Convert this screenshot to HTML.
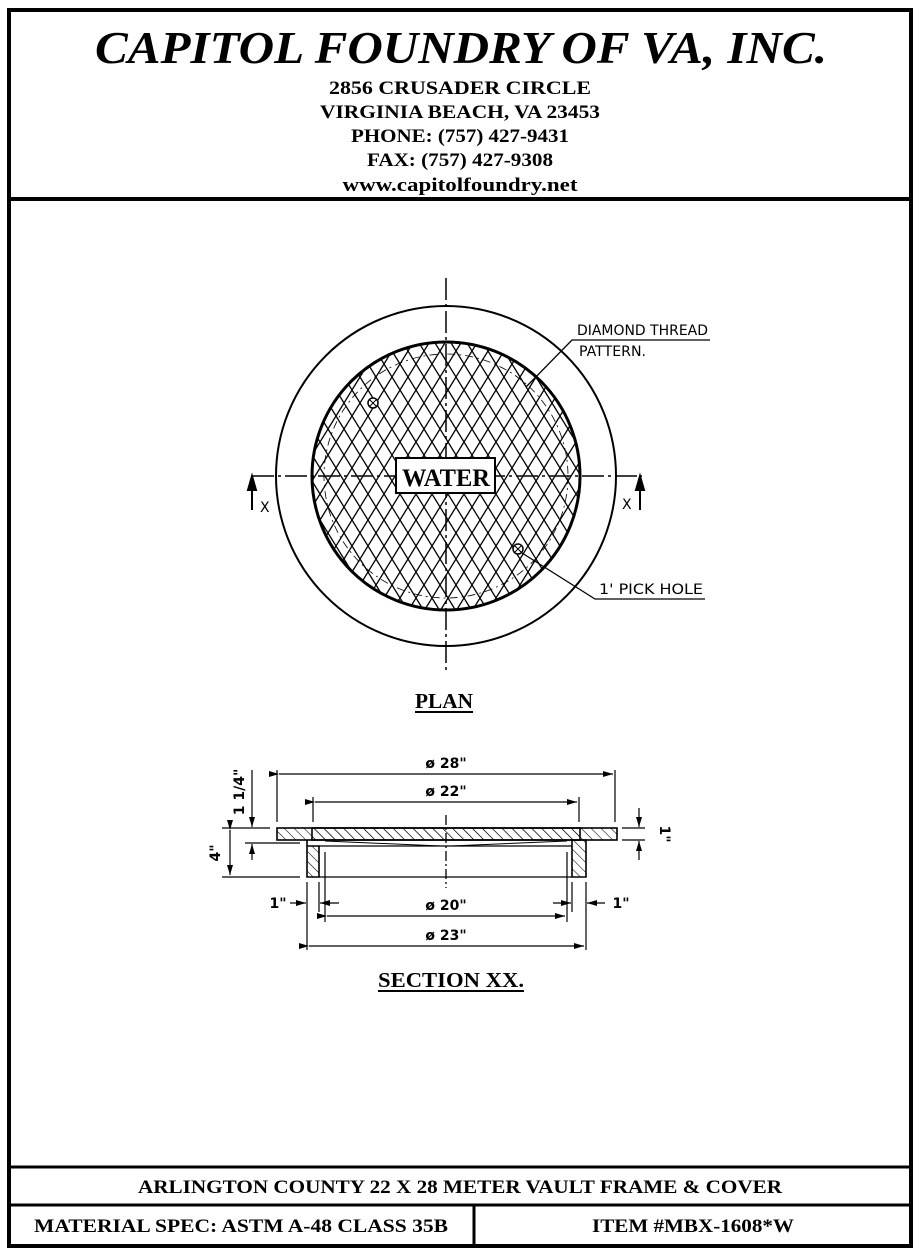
<!DOCTYPE html>
<html><head><meta charset="utf-8"><style>
html,body{margin:0;padding:0;background:#fff;}
svg{display:block;}
</style></head><body>
<svg width="920" height="1252" viewBox="0 0 920 1252" xmlns="http://www.w3.org/2000/svg">
<defs>
<pattern id="hx" x="0" y="0" width="16" height="26" patternUnits="userSpaceOnUse">
<path d="M0,26 L16,0 M0,0 L16,26 M-8,13 L0,0 M16,26 L24,13 M-8,13 L0,26 M16,0 L24,13" stroke="#000" stroke-width="1.3" fill="none"/>
</pattern>
<pattern id="sec" width="7" height="7" patternUnits="userSpaceOnUse" patternTransform="rotate(-45)">
<line x1="0" y1="0" x2="0" y2="7" stroke="#000" stroke-width="1.1"/>
</pattern>
<clipPath id="cc"><circle cx="446" cy="476" r="134"/></clipPath>
<marker id="ar" markerWidth="10" markerHeight="6" refX="10" refY="3" orient="auto" markerUnits="userSpaceOnUse"><path d="M0,0 L10,3 L0,6 z" fill="#000"/></marker>
</defs>
<!-- frame -->
<rect x="9" y="10" width="902" height="1236" fill="none" stroke="#000" stroke-width="4"/>
<line x1="9" y1="199" x2="911" y2="199" stroke="#000" stroke-width="4"/>
<line x1="9" y1="1167" x2="911" y2="1167" stroke="#000" stroke-width="3"/>
<line x1="9" y1="1205" x2="911" y2="1205" stroke="#000" stroke-width="3"/>
<line x1="474" y1="1205" x2="474" y2="1246" stroke="#000" stroke-width="3"/>
<!-- header -->
<g font-family="Liberation Serif, serif" text-anchor="middle" fill="#000" font-weight="bold">
<text x="461" y="63" font-size="46" font-style="italic" textLength="732" lengthAdjust="spacingAndGlyphs">CAPITOL FOUNDRY OF VA, INC.</text>
<text x="460" y="94" font-size="19" textLength="262" lengthAdjust="spacingAndGlyphs">2856 CRUSADER CIRCLE</text>
<text x="460" y="118" font-size="19" textLength="280" lengthAdjust="spacingAndGlyphs">VIRGINIA BEACH, VA 23453</text>
<text x="460" y="142" font-size="19" textLength="218" lengthAdjust="spacingAndGlyphs">PHONE: (757) 427-9431</text>
<text x="460" y="166" font-size="19" textLength="186" lengthAdjust="spacingAndGlyphs">FAX: (757) 427-9308</text>
<text x="460" y="191" font-size="19" textLength="235" lengthAdjust="spacingAndGlyphs">www.capitolfoundry.net</text>
<text x="460" y="1193" font-size="19" textLength="644" lengthAdjust="spacingAndGlyphs">ARLINGTON COUNTY 22 X 28 METER VAULT FRAME &amp; COVER</text>
<text x="241" y="1232" font-size="19" textLength="414" lengthAdjust="spacingAndGlyphs">MATERIAL SPEC:  ASTM A-48 CLASS 35B</text>
<text x="693" y="1232" font-size="19" textLength="202" lengthAdjust="spacingAndGlyphs">ITEM #MBX-1608*W</text>
</g>
<!-- PLAN -->
<circle cx="446" cy="476" r="170" fill="none" stroke="#000" stroke-width="2"/>
<rect x="300" y="330" width="300" height="300" fill="url(#hx)" clip-path="url(#cc)"/>
<circle cx="446" cy="476" r="134" fill="none" stroke="#000" stroke-width="3"/>
<circle cx="446" cy="476" r="122" fill="none" stroke="#000" stroke-width="0.8" stroke-dasharray="8,4,2,4"/>
<line x1="446" y1="278" x2="446" y2="672" stroke="#000" stroke-width="1.5" stroke-dasharray="22,4,3,4"/>
<line x1="252" y1="476" x2="642" y2="476" stroke="#000" stroke-width="1.5" stroke-dasharray="22,4,3,4"/>
<rect x="396" y="458" width="99" height="35" fill="#fff" stroke="#000" stroke-width="2"/>
<text x="446" y="486" font-family="Liberation Serif, serif" font-weight="bold" font-size="25" text-anchor="middle" textLength="88" lengthAdjust="spacingAndGlyphs">WATER</text>
<!-- section markers -->
<path d="M252,476 V510 M248,490 L252,476 L256,490 Z" stroke="#000" stroke-width="2" fill="#000"/>
<path d="M640,476 V510 M636,490 L640,476 L644,490 Z" stroke="#000" stroke-width="2" fill="#000"/>
<g font-family="DejaVu Sans, sans-serif" font-size="14" fill="#000">
<text x="260" y="512">X</text><text x="622" y="509">X</text>
</g>
<!-- pick holes -->
<circle cx="373" cy="403" r="5" fill="#fff" stroke="#000" stroke-width="1.5"/>
<path d="M370,400 L376,406 M376,400 L370,406" stroke="#000" stroke-width="1"/>
<circle cx="518" cy="549" r="5" fill="#fff" stroke="#000" stroke-width="1.5"/>
<path d="M515,546 L521,552 M521,546 L515,552" stroke="#000" stroke-width="1"/>
<!-- leaders -->
<polyline points="526,387 572,340 710,340" fill="none" stroke="#000" stroke-width="1.3"/>
<polyline points="522,553 595,599 705,599" fill="none" stroke="#000" stroke-width="1.3"/>
<g font-family="DejaVu Sans, sans-serif" font-size="14" fill="#000">
<text x="577" y="335" textLength="131" lengthAdjust="spacingAndGlyphs">DIAMOND THREAD</text>
<text x="579" y="356" textLength="67" lengthAdjust="spacingAndGlyphs">PATTERN.</text>
<text x="599" y="594" textLength="104" lengthAdjust="spacingAndGlyphs">1' PICK HOLE</text>
</g>
<text x="444" y="708" font-family="Liberation Serif, serif" font-weight="bold" font-size="21" text-anchor="middle" textLength="58" lengthAdjust="spacingAndGlyphs">PLAN</text>
<line x1="415" y1="712" x2="473" y2="712" stroke="#000" stroke-width="2"/>
<!-- SECTION -->
<g stroke="#000" stroke-width="1.6">
<rect x="277" y="828" width="340" height="12" fill="url(#sec)"/>
<path d="M307,840 V877 H319 V846 H307 Z" fill="url(#sec)"/>
<path d="M572,846 V877 H586 V840 H572 Z" fill="url(#sec)"/>
<rect x="312" y="828" width="268" height="12" fill="url(#sec)"/>
<line x1="319" y1="846" x2="572" y2="846" stroke-width="1.3"/>
<line x1="319" y1="877" x2="572" y2="877" stroke-width="1.3"/>
<path d="M325,841 L441,846 M451,846 L567,841" stroke-width="1"/>
</g>
<line x1="446" y1="815" x2="446" y2="888" stroke="#000" stroke-width="1.3" stroke-dasharray="10,3,2,3"/>
<!-- dims -->
<g stroke="#000" stroke-width="1.2" fill="none">
<line x1="277" y1="770" x2="277" y2="822"/><line x1="615" y1="770" x2="615" y2="822"/>
<line x1="279" y1="774" x2="613" y2="774" marker-end="url(#ar)" marker-start="url(#ar)"/>
<line x1="313" y1="797" x2="313" y2="822"/><line x1="579" y1="797" x2="579" y2="822"/>
<line x1="315" y1="802" x2="577" y2="802" marker-end="url(#ar)" marker-start="url(#ar)"/>
<line x1="307" y1="882" x2="307" y2="950"/><line x1="586" y1="882" x2="586" y2="950"/>
<line x1="309" y1="946" x2="584" y2="946" marker-end="url(#ar)" marker-start="url(#ar)"/>
<line x1="319" y1="882" x2="319" y2="912"/><line x1="325" y1="852" x2="325" y2="922"/>
<line x1="567" y1="852" x2="567" y2="922"/><line x1="572" y1="882" x2="572" y2="912"/>
<line x1="327" y1="916" x2="565" y2="916" marker-end="url(#ar)" marker-start="url(#ar)"/>
<line x1="290" y1="903" x2="306" y2="903" marker-end="url(#ar)"/>
<line x1="339" y1="903" x2="320" y2="903" marker-end="url(#ar)"/>
<line x1="553" y1="903" x2="571" y2="903" marker-end="url(#ar)"/>
<line x1="605" y1="903" x2="587" y2="903" marker-end="url(#ar)"/>
<line x1="222" y1="828" x2="270" y2="828"/><line x1="245" y1="843" x2="300" y2="843"/>
<line x1="222" y1="877" x2="300" y2="877"/>
<line x1="252" y1="770" x2="252" y2="827" marker-end="url(#ar)"/>
<line x1="252" y1="860" x2="252" y2="844" marker-end="url(#ar)"/>
<line x1="230" y1="830" x2="230" y2="875" marker-end="url(#ar)" marker-start="url(#ar)"/>
<line x1="622" y1="828" x2="645" y2="828"/><line x1="622" y1="840" x2="645" y2="840"/>
<line x1="639" y1="808" x2="639" y2="827" marker-end="url(#ar)"/>
<line x1="639" y1="860" x2="639" y2="841" marker-end="url(#ar)"/>
</g>
<g font-family="DejaVu Sans, sans-serif" font-weight="bold" font-size="14" fill="#000" text-anchor="middle">
<text x="446" y="768">ø 28"</text>
<text x="446" y="796">ø 22"</text>
<text x="446" y="910">ø 20"</text>
<text x="446" y="940">ø 23"</text>
<text x="278" y="908">1"</text>
<text x="621" y="908">1"</text>
<text transform="translate(244,792) rotate(-90)">1 1/4"</text>
<text transform="translate(220,853) rotate(-90)">4"</text>
<text transform="translate(660,834) rotate(90)">1"</text>
</g>
<text x="451" y="987" font-family="Liberation Serif, serif" font-weight="bold" font-size="21" text-anchor="middle" textLength="146" lengthAdjust="spacingAndGlyphs">SECTION  XX.</text>
<line x1="378" y1="991" x2="524" y2="991" stroke="#000" stroke-width="2"/>
</svg>
</body></html>
